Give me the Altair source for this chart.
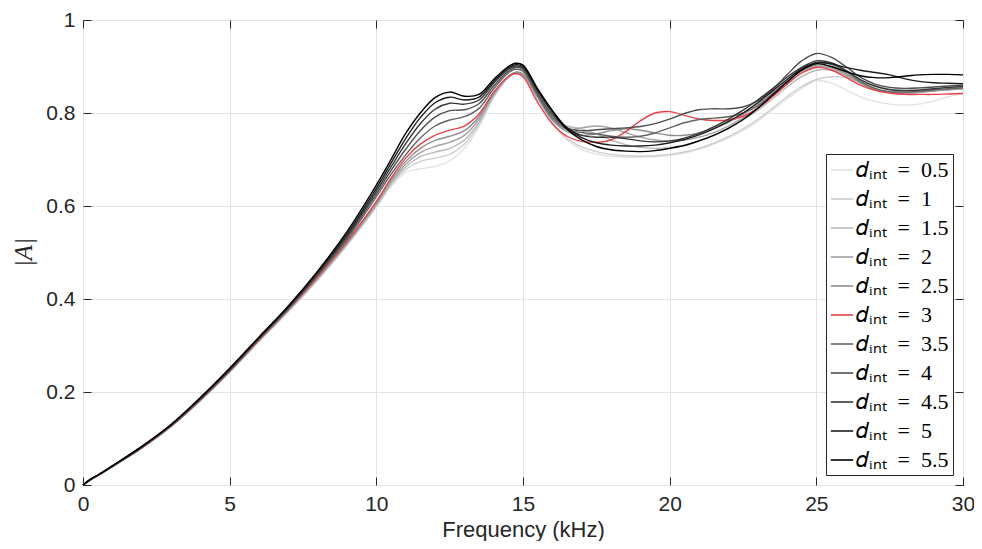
import altair as alt
import pandas as pd

# Frequency grid (kHz)
freq = [0, 0.25, 0.5, 1, 2, 3, 4, 5, 6, 7, 8,
        9, 10, 10.5, 11, 11.5, 12, 12.5, 13, 13.5, 14, 14.5, 14.75,
        15, 15.5, 16, 16.5, 17, 17.5, 18, 18.5, 19, 19.5, 20, 20.5, 21, 21.5,
        22, 22.5, 23, 23.5, 24, 24.5, 25, 25.5, 26, 26.5, 27, 27.5, 28, 28.5,
        29, 29.5, 30]

d_values = ["0.5", "1", "1.5", "2", "2.5", "3", "3.5", "4", "4.5", "5", "5.5"]

A_d05 = [0, 0.011, 0.020, 0.039, 0.079, 0.125, 0.181, 0.242, 0.308, 0.372, 0.440,
         0.515, 0.597, 0.642, 0.672, 0.680, 0.685, 0.697, 0.724, 0.770, 0.833, 0.876, 0.886,
         0.880, 0.830, 0.778, 0.742, 0.722, 0.712, 0.707, 0.705, 0.705, 0.706, 0.709, 0.714,
         0.722, 0.733, 0.746, 0.762, 0.782, 0.806, 0.830, 0.853, 0.869, 0.865, 0.850, 0.835,
         0.825, 0.819, 0.817, 0.819, 0.826, 0.835, 0.842]
A_d10 = [0, 0.011, 0.020, 0.039, 0.079, 0.125, 0.181, 0.243, 0.309, 0.373, 0.441,
         0.516, 0.599, 0.645, 0.678, 0.696, 0.703, 0.711, 0.733, 0.775, 0.835, 0.876, 0.886,
         0.880, 0.830, 0.780, 0.745, 0.727, 0.717, 0.711, 0.708, 0.707, 0.708, 0.711, 0.716,
         0.724, 0.735, 0.749, 0.766, 0.786, 0.810, 0.835, 0.857, 0.872, 0.878, 0.876, 0.866,
         0.857, 0.852, 0.851, 0.852, 0.853, 0.853, 0.853]
A_d15 = [0, 0.011, 0.020, 0.039, 0.079, 0.126, 0.182, 0.243, 0.310, 0.375, 0.443,
         0.518, 0.601, 0.648, 0.684, 0.706, 0.716, 0.724, 0.742, 0.780, 0.837, 0.877, 0.886,
         0.881, 0.833, 0.790, 0.772, 0.766, 0.755, 0.742, 0.732, 0.726, 0.724, 0.726, 0.731,
         0.740, 0.752, 0.767, 0.785, 0.806, 0.830, 0.856, 0.878, 0.892, 0.892, 0.880, 0.864,
         0.851, 0.845, 0.843, 0.845, 0.848, 0.850, 0.852]
A_d20 = [0, 0.011, 0.020, 0.040, 0.080, 0.126, 0.182, 0.244, 0.311, 0.376, 0.445,
         0.520, 0.604, 0.652, 0.690, 0.715, 0.728, 0.737, 0.752, 0.786, 0.840, 0.878, 0.887,
         0.883, 0.834, 0.787, 0.765, 0.768, 0.772, 0.768, 0.758, 0.748, 0.742, 0.740, 0.742,
         0.748, 0.758, 0.772, 0.790, 0.811, 0.836, 0.862, 0.886, 0.900, 0.897, 0.882, 0.865,
         0.851, 0.844, 0.842, 0.844, 0.847, 0.850, 0.852]
A_d25 = [0, 0.011, 0.020, 0.040, 0.080, 0.127, 0.183, 0.245, 0.312, 0.377, 0.447,
         0.522, 0.608, 0.656, 0.696, 0.724, 0.741, 0.750, 0.762, 0.792, 0.843, 0.879, 0.888,
         0.884, 0.835, 0.785, 0.760, 0.752, 0.755, 0.762, 0.766, 0.763, 0.757, 0.752, 0.752,
         0.757, 0.767, 0.780, 0.797, 0.818, 0.843, 0.868, 0.890, 0.903, 0.900, 0.885, 0.866,
         0.852, 0.845, 0.843, 0.845, 0.848, 0.851, 0.853]
A_d30 = [0, 0.011, 0.020, 0.040, 0.080, 0.127, 0.183, 0.245, 0.312, 0.378, 0.448,
         0.524, 0.610, 0.660, 0.703, 0.733, 0.752, 0.763, 0.772, 0.798, 0.845, 0.878, 0.885,
         0.878, 0.823, 0.777, 0.750, 0.739, 0.737, 0.742, 0.760, 0.783, 0.800, 0.803, 0.795,
         0.787, 0.784, 0.785, 0.793, 0.810, 0.835, 0.862, 0.886, 0.898, 0.893, 0.877, 0.860,
         0.849, 0.843, 0.840, 0.840, 0.840, 0.841, 0.842]
A_d35 = [0, 0.011, 0.021, 0.040, 0.081, 0.128, 0.184, 0.246, 0.314, 0.379, 0.451,
         0.528, 0.620, 0.668, 0.710, 0.746, 0.772, 0.785, 0.792, 0.810, 0.852, 0.886, 0.894,
         0.890, 0.838, 0.790, 0.765, 0.758, 0.755, 0.750, 0.748, 0.750, 0.757, 0.768, 0.779,
         0.786, 0.789, 0.792, 0.800, 0.815, 0.840, 0.868, 0.893, 0.908, 0.905, 0.890, 0.868,
         0.853, 0.846, 0.845, 0.847, 0.850, 0.852, 0.854]
A_d40 = [0, 0.012, 0.021, 0.040, 0.081, 0.128, 0.185, 0.247, 0.315, 0.380, 0.453,
         0.532, 0.626, 0.676, 0.722, 0.762, 0.791, 0.805, 0.807, 0.820, 0.858, 0.890, 0.898,
         0.894, 0.842, 0.795, 0.768, 0.762, 0.764, 0.766, 0.768, 0.771, 0.777, 0.787, 0.799,
         0.807, 0.809, 0.809, 0.813, 0.826, 0.850, 0.882, 0.912, 0.928, 0.920, 0.900, 0.877,
         0.862, 0.855, 0.853, 0.854, 0.856, 0.858, 0.860]
A_d45 = [0, 0.012, 0.021, 0.041, 0.082, 0.129, 0.186, 0.248, 0.316, 0.382, 0.455,
         0.536, 0.632, 0.684, 0.734, 0.777, 0.808, 0.821, 0.819, 0.828, 0.864, 0.894, 0.901,
         0.897, 0.847, 0.800, 0.768, 0.752, 0.748, 0.748, 0.745, 0.740, 0.738, 0.740, 0.746,
         0.756, 0.770, 0.787, 0.806, 0.828, 0.852, 0.877, 0.898, 0.912, 0.908, 0.892, 0.872,
         0.858, 0.850, 0.848, 0.849, 0.852, 0.855, 0.857]
A_d50 = [0, 0.012, 0.021, 0.041, 0.082, 0.129, 0.187, 0.250, 0.317, 0.384, 0.458,
         0.540, 0.638, 0.692, 0.745, 0.790, 0.822, 0.834, 0.828, 0.834, 0.868, 0.897, 0.904,
         0.900, 0.850, 0.805, 0.768, 0.747, 0.736, 0.731, 0.729, 0.729, 0.731, 0.736, 0.743,
         0.753, 0.766, 0.782, 0.800, 0.822, 0.847, 0.872, 0.895, 0.908, 0.906, 0.898, 0.892,
         0.887, 0.882, 0.874, 0.868, 0.865, 0.864, 0.863]
A_d55 = [0, 0.012, 0.021, 0.041, 0.083, 0.130, 0.188, 0.251, 0.318, 0.385, 0.460,
         0.545, 0.645, 0.700, 0.756, 0.800, 0.833, 0.845, 0.836, 0.840, 0.872, 0.900, 0.907,
         0.903, 0.852, 0.805, 0.765, 0.742, 0.728, 0.721, 0.718, 0.717, 0.719, 0.724, 0.730,
         0.740, 0.752, 0.767, 0.786, 0.810, 0.838, 0.866, 0.892, 0.906, 0.900, 0.889, 0.880,
         0.876, 0.876, 0.879, 0.882, 0.883, 0.883, 0.882]

series = [A_d05, A_d10, A_d15, A_d20, A_d25, A_d30, A_d35, A_d40, A_d45, A_d50, A_d55]
colors = ["#e3e3e3", "#cdcdcd", "#b8b8b8", "#a3a3a3", "#8e8e8e", "#e8434a",
          "#646464", "#4f4f4f", "#373737", "#1e1e1e", "#000000"]

labels = ["\U0001D451\u1d62\u2099\u209c\u2002=\u2002" + d for d in d_values]

rows = []
for k, (lab, vals) in enumerate(zip(labels, series)):
    for f, a in zip(freq, vals):
        rows.append({"freq": f, "A": a, "d": lab, "k": k})
df = pd.DataFrame(rows)

FONT = "Liberation Sans"
DARK = "#262626"
GRID = "#e3e3e3"

xscale = alt.Scale(domain=[0, 30], nice=False, zero=False)
yscale = alt.Scale(domain=[0, 1], nice=False, zero=False)
xticks = [0, 5, 10, 15, 20, 25, 30]
yticks = [0, 0.2, 0.4, 0.6, 0.8, 1]

lines = alt.Chart(df).mark_line(strokeWidth=1.4, interpolate="catmull-rom").encode(
    x=alt.X("freq:Q", scale=xscale,
            axis=alt.Axis(orient="bottom", values=xticks, grid=True, gridColor=GRID,
                          ticks=False, domain=False, labelFont=FONT, labelFontSize=21,
                          labelColor=DARK, labelPadding=8, labelFlush=False,
                          title="Frequency (kHz)",
                          titleFont=FONT, titleFontSize=22, titleFontWeight="normal",
                          titleColor=DARK, titlePadding=5, format="d")),
    y=alt.Y("A:Q", scale=yscale,
            axis=alt.Axis(orient="left", values=yticks, grid=True, gridColor=GRID,
                          ticks=False, domain=False, labelFont=FONT, labelFontSize=21,
                          labelColor=DARK, labelPadding=8, labelFlush=False,
                          title="|A|",
                          titleFont="Liberation Serif", titleFontSize=25,
                          titleFontStyle="italic", titleFontWeight="normal",
                          titleColor=DARK, titleX=-47, titleY=232,
                          labelExpr="datum.value == 0 || datum.value == 1 ? format(datum.value, 'd') : format(datum.value, '.1f')")),
    color=alt.Color("d:N", sort=labels,
                    scale=alt.Scale(domain=labels, range=colors),
                    legend=alt.Legend(orient="bottom-right", offset=10, title=None,
                                      symbolType="stroke", symbolSize=500,
                                      symbolStrokeWidth=1.6, labelFont="Liberation Serif",
                                      labelFontSize=22, labelColor="#000000",
                                      strokeColor=DARK, fillColor="white", padding=4,
                                      rowPadding=6, labelOffset=2, labelLimit=220)),
    detail="k:O",
)

def tick_axis(orient, vals):
    return alt.Axis(orient=orient, values=vals, grid=False, labels=False,
                    domain=False, ticks=True, tickSize=8, tickWidth=1,
                    tickColor=DARK, offset=-8, title=None)

ghost1 = alt.Chart(df).mark_point(opacity=0).encode(
    x=alt.X("freq:Q", scale=xscale, axis=tick_axis("bottom", xticks)),
    y=alt.Y("A:Q", scale=yscale, axis=tick_axis("left", yticks)),
)
ghost2 = alt.Chart(df).mark_point(opacity=0).encode(
    x=alt.X("freq:Q", scale=xscale, axis=tick_axis("top", xticks)),
    y=alt.Y("A:Q", scale=yscale, axis=tick_axis("right", yticks)),
)

chart = alt.layer(lines, ghost1, ghost2).resolve_axis(
    x="independent", y="independent"
).properties(
    width=880, height=465,
    autosize=alt.AutoSizeParams(type="none"),
    padding={"left": 75, "top": 12, "right": 11, "bottom": 56},
    background="white",
).configure_view(stroke=DARK, strokeWidth=1)

chart.save("out.html", embed_options={"renderer": "svg", "actions": False})
